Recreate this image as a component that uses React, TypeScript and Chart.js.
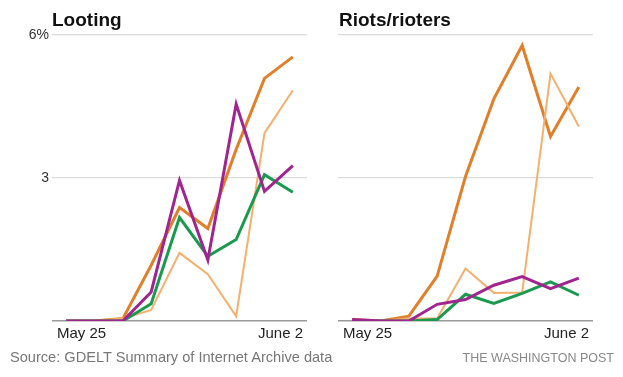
import React, { useEffect, useRef } from "react";
import { Chart, registerables } from "chart.js";

Chart.register(...registerables);

const days = ["May 25", "May 26", "May 27", "May 28", "May 29", "May 30", "May 31", "June 1", "June 2"];
const xEdgeLabels = ["May 25", "June 2"];
const yTickLabels: Record<number, string> = { 6: "6%", 3: "3" };

const lootingDark = [0, 0, 0.05, 1.17, 2.38, 1.94, 3.6, 5.09, 5.54];
const lootingLight = [0, 0, 0.05, 0.23, 1.43, 0.98, 0.1, 3.94, 4.84];
const lootingGreen = [0, 0, 0, 0.36, 2.17, 1.36, 1.71, 3.07, 2.7];
const lootingPurple = [0, 0, 0, 0.61, 2.95, 1.28, 4.55, 2.72, 3.26];

const riotsDark = [0.03, 0, 0.1, 0.94, 3.03, 4.66, 5.78, 3.87, 4.91];
const riotsLight = [0.03, 0, 0.05, 0.05, 1.1, 0.59, 0.6, 5.19, 4.08];
const riotsGreen = [0, 0, 0, 0.03, 0.56, 0.37, 0.58, 0.82, 0.54];
const riotsPurple = [0.03, 0, 0, 0.35, 0.45, 0.75, 0.93, 0.68, 0.9];

const COLORS = {
  dark: "#e17f2a",
  light: "#f4b06c",
  green: "#1a9a4e",
  purple: "#a0258f",
};

const FONT = "'Liberation Sans', Arial, sans-serif";

const edgeLabelsPlugin = {
  id: "edgeLabels",
  afterDraw(chart: any) {
    const { ctx, chartArea } = chart;
    ctx.save();
    ctx.font = `15px ${FONT}`;
    ctx.fillStyle = "#222";
    ctx.textBaseline = "middle";
    ctx.textAlign = "left";
    ctx.fillText(xEdgeLabels[0], chartArea.left + 5, chartArea.bottom + 13);
    ctx.textAlign = "right";
    ctx.fillText(xEdgeLabels[1], chartArea.right - 4, chartArea.bottom + 13);
    ctx.restore();
  },
};

function Panel(props: {
  dark: number[];
  light: number[];
  green: number[];
  purple: number[];
  yWidth: number;
  showY: boolean;
  padRight: number;
  height: number;
  width: number;
}) {
  const ref = useRef<HTMLCanvasElement>(null);
  useEffect(() => {
    if (!ref.current) return;
    const ds = (data: number[], color: string, w: number) => ({
      data,
      borderColor: color,
      backgroundColor: color,
      borderWidth: w,
      pointRadius: 0,
      tension: 0,
      fill: false,
    });
    const chart = new Chart(ref.current, {
      type: "line",
      data: {
        labels: days,
        datasets: [
          ds(props.purple, COLORS.purple, 3),
          ds(props.green, COLORS.green, 3),
          ds(props.light, COLORS.light, 2),
          ds(props.dark, COLORS.dark, 3),
        ],
      },
      options: {
        animation: false,
        responsive: false,
        maintainAspectRatio: false,
        layout: { padding: { left: 0, right: props.padRight, top: 34, bottom: 0 } },
        plugins: { legend: { display: false }, tooltip: { enabled: false } },
        scales: {
          x: {
            type: "category",
            offset: true,
            grid: { display: false },
            border: { display: false },
            ticks: { display: false },
            afterFit: (s: any) => {
              s.height = 56;
            },
          },
          y: {
            min: 0,
            max: 6,
            border: { display: false },
            grid: {
              drawTicks: false,
              color: (c: any) => (c.tick && c.tick.value === 0 ? "#9a9a9a" : "#dcdcdc"),
              lineWidth: (c: any) => (c.tick && c.tick.value === 0 ? 1.6 : 1.2),
            },
            ticks: {
              display: props.showY,
              stepSize: 3,
              padding: 3,
              color: "#333",
              font: { family: FONT, size: 14 },
              callback: (v: any) => yTickLabels[v as number] ?? "",
            },
            afterFit: (s: any) => {
              s.width = props.yWidth;
            },
          },
        },
      },
      plugins: [edgeLabelsPlugin],
    });
    return () => chart.destroy();
  }, []);
  return <canvas ref={ref} width={props.width} height={props.height} style={{ display: "block" }} />;
}

export default function App() {
  return (
    <div style={{ position: "absolute", left: 0, top: 0, width: 623, height: 377, background: "#fff", overflow: "hidden" }}>
      <div style={{ position: "absolute", left: 0, top: 1 }}>
        <Panel dark={lootingDark} light={lootingLight} green={lootingGreen} purple={lootingPurple}
          yWidth={52} showY={true} padRight={8} width={315} height={376} />
      </div>
      <div style={{ position: "absolute", left: 315, top: 1 }}>
        <Panel dark={riotsDark} light={riotsLight} green={riotsGreen} purple={riotsPurple}
          yWidth={23} showY={false} padRight={30} width={308} height={376} />
      </div>
      <div style={{ position: "absolute", left: 52, top: 8, font: `bold 19px ${FONT}`, color: "#111", lineHeight: "24px" }}>Looting</div>
      <div style={{ position: "absolute", left: 339, top: 8, font: `bold 19px ${FONT}`, color: "#111", lineHeight: "24px" }}>Riots/rioters</div>
      <div style={{ position: "absolute", left: 10, top: 348, font: `14.6px ${FONT}`, color: "#777", lineHeight: "18px", whiteSpace: "nowrap" }}>
        Source: GDELT Summary of Internet Archive data
      </div>
      <div style={{ position: "absolute", right: 9, top: 350, font: `12.5px ${FONT}`, color: "#888", lineHeight: "16px", whiteSpace: "nowrap" }}>
        THE WASHINGTON POST
      </div>
    </div>
  );
}
